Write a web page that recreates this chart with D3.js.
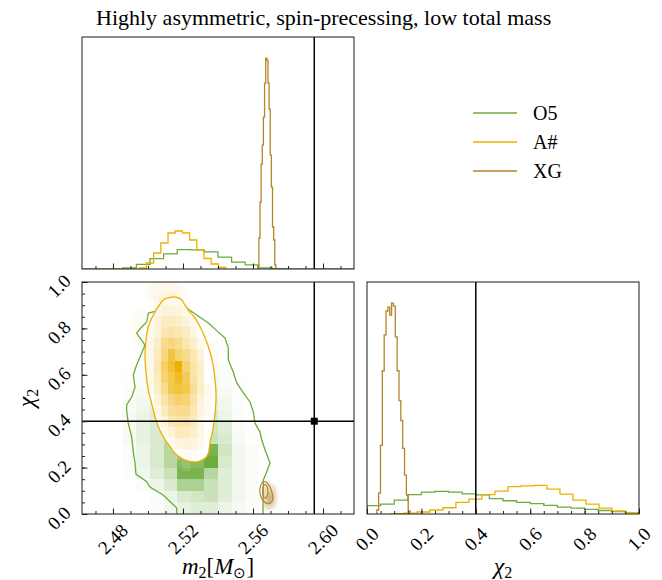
<!DOCTYPE html>
<html>
<head>
<meta charset="utf-8">
<script src="https://cdn.jsdelivr.net/npm/d3@7"></script>
<style>
  body { margin: 0; background: #fff; }
  text { font-family: "Liberation Serif", "Times New Roman", serif; fill: #000; }
</style>
</head>
<body>
<svg id="chart" width="662" height="580"></svg>
<script>
// ---------------- data ----------------
const titleText = "Highly asymmetric, spin-precessing, low total mass";
const seriesNames = ["O5", "A#", "XG"];
const seriesColors = ["#6cac3c", "#eeb000", "#b5842c"];

const m2Range = [2.4623, 2.6177];
const chiRange = [0, 1];
const m2Ticks = [2.48, 2.52, 2.56, 2.60];
const m2TickLabels = ["2.48", "2.52", "2.56", "2.60"];
const chiTicks = [0, 0.2, 0.4, 0.6, 0.8, 1.0];
const chiTickLabels = ["0.0", "0.2", "0.4", "0.6", "0.8", "1.0"];
const truthM2 = 2.595;
const truthChi = 0.4;

// 1D histograms of m2: first bin edge, bin width, heights
const m2BinStart = [2.4623, 2.4950, 2.5627];
const m2BinWidth = [0.00777, 0.00411, 0.00065];
const m2HistO5 = [0, 0, 0, 1, 4.6, 10.3, 15.2, 19.3, 19.2, 17.2, 11.8, 6.8, 4.2, 1.2, 0.4, 0, 0, 0, 0, 0];
const m2HistA = [1, 6, 16, 26, 36, 38, 36, 29, 19, 10.5, 5, 1.5];
const m2HistXG = [3, 31, 67, 105, 124, 152, 186, 211, 209, 186, 160, 114, 82, 42, 29, 4];

// 1D histograms of chi2
const chiBinStart = [0, 0.088, 0.036];
const chiBinWidth = [0.05, 0.0478, 0.0068];
const chiHistO5 = [8.5, 10, 14, 19.5, 22, 22.7, 22, 20.3, 19.3, 15.5, 13.3, 11.7, 10.5, 8.7, 7, 6, 4.7, 3.5, 2.3, 1.3];
const chiHistA = [0.3, 0.8, 2, 4, 6.3, 11.7, 15, 19.5, 23, 27.5, 28.2, 28.7, 25, 20, 14, 10, 6, 3, 1.3];
const chiHistXG = [4, 21, 69, 144, 180, 204, 208, 200, 212, 209, 178, 144, 114, 94, 66, 39, 19, 3];

// 2D normalised densities (rows = chi2 bins from low to high)
const densO5 = [
  [0,0,0,0,0,.15,.3,.4,.45,.45,.35,.25,.15,0,0,0,0,0,0,0],
  [0,0,0,0,0,.2,.35,.5,.55,.6,.45,.3,.15,0,0,0,0,0,0,0],
  [0,0,0,0,.2,.35,.5,.75,.75,.6,.45,.3,.15,0,0,0,0,0,0,0],
  [0,0,0,.15,.3,.45,.6,.95,.95,.7,.45,.3,.15,0,0,0,0,0,0,0],
  [0,0,0,.2,.35,.5,.7,.9,.9,1,.5,.3,.15,0,0,0,0,0,0,0],
  [0,0,0,.2,.35,.5,.7,.8,.85,.95,.55,.3,.15,0,0,0,0,0,0,0],
  [0,0,0,.25,.4,.5,.65,.7,.75,.6,.5,.25,.1,0,0,0,0,0,0,0],
  [0,0,0,.25,.4,.5,.6,.65,.65,.55,.45,.2,.1,0,0,0,0,0,0,0],
  [0,0,0,.25,.35,.45,.55,.6,.55,.5,.35,.15,0,0,0,0,0,0,0,0],
  [0,0,0,.2,.3,.4,.5,.5,.45,.4,.3,.12,0,0,0,0,0,0,0,0],
  [0,0,0,.15,.25,.35,.4,.4,.4,.35,.25,.1,0,0,0,0,0,0,0,0],
  [0,0,0,.1,.2,.3,.35,.35,.35,.3,.2,.08,0,0,0,0,0,0,0,0],
  [0,0,0,.08,.15,.25,.3,.3,.3,.25,.15,0,0,0,0,0,0,0,0,0],
  [0,0,0,0,.12,.2,.25,.25,.25,.2,.1,0,0,0,0,0,0,0,0,0],
  [0,0,0,0,.1,.15,.2,.2,.2,.15,.08,0,0,0,0,0,0,0,0,0],
  [0,0,0,0,.08,.12,.15,.15,.15,.1,0,0,0,0,0,0,0,0,0,0],
  [0,0,0,0,0,.1,.12,.12,.1,.05,0,0,0,0,0,0,0,0,0,0],
  [0,0,0,0,0,.05,.08,.08,.06,0,0,0,0,0,0,0,0,0,0,0],
  [0,0,0,0,0,0,.04,.04,0,0,0,0,0,0,0,0,0,0,0,0],
  [0,0,0,0,0,0,0,0,0,0,0,0,0,0,0,0,0,0,0,0]
];
const densA = [
  [0,0,0,0,0,0,0,0,0,0,0,0],
  [0,0,0,0,0,0,0,0,0,0,0,0],
  [0,0,0,0,0,0,.14,0,0,0,0,0],
  [0,0,0,0,0,.2,.22,.22,0,0,0,0],
  [0,0,0,0,.25,.35,.39,.35,.28,0,0,0],
  [0,0,0,.28,.39,.5,.5,.45,.32,0,0,0],
  [0,0,.25,.39,.55,.59,.59,.5,.32,0,0,0],
  [0,0,.32,.5,.63,.67,.67,.55,.35,.22,0,0],
  [0,0,.39,.59,.71,.77,.74,.59,.39,.25,0,0],
  [0,.28,.45,.67,.84,.87,.84,.63,.45,.28,0,0],
  [0,.32,.5,.74,.84,.92,.81,.59,.45,0,0,0],
  [0,.32,.55,.77,.89,1,.74,.59,.45,0,0,0],
  [0,.32,.5,.71,.87,.74,.67,.55,.39,0,0,0],
  [0,.32,.45,.67,.71,.67,.55,.45,.28,0,0,0],
  [0,.28,.39,.55,.59,.55,.5,.35,0,0,0,0],
  [0,.22,.39,.5,.5,.45,.39,.28,0,0,0,0],
  [0,0,.32,.39,.39,.35,.28,0,0,0,0,0],
  [0,0,.22,.28,.28,.22,0,0,0,0,0,0],
  [0,0,0,.14,.17,0,0,0,0,0,0,0]
];

// credible-region contours, [m2, chi2]
const contourO5 = [[2.5164,0],[2.5164,0.026],[2.5087,0.082],[2.5011,0.116],[2.4993,0.139],[2.4931,0.172],[2.4926,0.220],[2.4916,0.267],[2.4907,0.332],[2.4887,0.392],[2.4878,0.448],[2.4878,0.470],[2.4907,0.504],[2.4926,0.547],[2.4916,0.599],[2.4935,0.642],[2.4964,0.694],[2.4983,0.728],[2.4954,0.759],[2.4935,0.780],[2.4964,0.806],[2.4993,0.828],[2.5002,0.866],[2.5069,0.879],[2.5126,0.892],[2.5193,0.901],[2.5221,0.888],[2.5278,0.858],[2.5345,0.823],[2.5402,0.784],[2.5440,0.759],[2.5459,0.716],[2.5459,0.664],[2.5487,0.612],[2.5507,0.565],[2.5545,0.522],[2.5583,0.483],[2.5602,0.440],[2.5611,0.392],[2.5640,0.353],[2.5650,0.319],[2.5669,0.276],[2.5697,0.220],[2.5678,0.181],[2.5659,0.147],[2.5657,0]];
const contourA = [[2.5126,0.934],[2.5087,0.922],[2.5059,0.894],[2.5030,0.858],[2.5002,0.807],[2.4989,0.750],[2.4983,0.678],[2.4989,0.606],[2.5002,0.534],[2.5021,0.477],[2.5040,0.419],[2.5059,0.376],[2.5087,0.333],[2.5126,0.290],[2.5164,0.254],[2.5221,0.230],[2.5278,0.225],[2.5326,0.240],[2.5345,0.262],[2.5354,0.305],[2.5370,0.362],[2.5383,0.434],[2.5389,0.506],[2.5383,0.578],[2.5370,0.650],[2.5345,0.721],[2.5307,0.793],[2.5269,0.844],[2.5230,0.879],[2.5211,0.901],[2.5193,0.922],[2.5164,0.934]];
const contourXG = [[2.5643,0.121],[2.5657,0.138],[2.5680,0.136],[2.5697,0.116],[2.5709,0.091],[2.5714,0.065],[2.5700,0.047],[2.5674,0.047],[2.5651,0.065],[2.5640,0.091]];
const contourXGInner = [[2.5669,0.128],[2.5681,0.118],[2.5685,0.099],[2.5682,0.079],[2.5670,0.068],[2.5658,0.079],[2.5655,0.099],[2.5658,0.118]];

// clouds of individual samples lying outside the contours: [m2, chi2, m2 radius, chi2 radius, opacity]
const cloudA = [[2.5100, 0.960, 0.0110, 0.050, 0.07], [2.4960, 0.800, 0.0060, 0.080, 0.04]];
const cloudXG = [[2.5692, 0.075, 0.0048, 0.058, 0.28], [2.5696, 0.068, 0.0020, 0.028, 0.45]];

// ---------------- layout ----------------
const svg = d3.select("#chart");
const P = { lx0: 82, lx1: 354, rx0: 367, rx1: 639, ty0: 37, ty1: 269, by0: 282, by1: 514 };

const xM2 = d3.scaleLinear().domain(m2Range).range([P.lx0, P.lx1]);
const xChi = d3.scaleLinear().domain(chiRange).range([P.rx0, P.rx1]);
const yChi = d3.scaleLinear().domain(chiRange).range([P.by1, P.by0]);
const m2Max = d3.max([m2HistO5, m2HistA, m2HistXG].flat());
const chiMax = d3.max([chiHistO5, chiHistA, chiHistXG].flat());
const yHm2 = d3.scaleLinear().domain([0, 1.1 * m2Max]).range([P.ty1, P.ty0]);
const yHchi = d3.scaleLinear().domain([0, 1.1 * chiMax]).range([P.by1, P.by0]);

const defs = svg.append("defs");
function clip(id, x0, y0, x1, y1) {
  defs.append("clipPath").attr("id", id).append("rect")
    .attr("x", x0).attr("y", y0).attr("width", x1 - x0).attr("height", y1 - y0);
  return "url(#" + id + ")";
}
const clipTop = clip("cTop", P.lx0, P.ty0, P.lx1, P.ty1);
const clip2d = clip("c2d", P.lx0, P.by0, P.lx1, P.by1);
const clipRight = clip("cRight", P.rx0, P.by0, P.rx1, P.by1);
defs.append("filter").attr("id", "soft").attr("x", "-50%").attr("y", "-50%").attr("width", "200%").attr("height", "200%")
  .append("feGaussianBlur").attr("stdDeviation", 1.8);

// step outline of a histogram
function stepPoints(start, width, heights) {
  const pts = [[start, 0]];
  heights.forEach((h, i) => {
    pts.push([start + i * width, h]);
    pts.push([start + (i + 1) * width, h]);
  });
  pts.push([start + heights.length * width, 0]);
  return pts;
}
function drawHist(g, xs, ys, start, width, heights, color) {
  const line = d3.line().x(d => xs(d[0])).y(d => ys(d[1]));
  g.append("path").attr("d", line(stepPoints(start, width, heights)))
    .attr("fill", "none").attr("stroke", color).attr("stroke-width", 1.3)
    .attr("stroke-linejoin", "miter");
}

// ---------- top-left: m2 marginal ----------
const gTop = svg.append("g").attr("clip-path", clipTop);
[m2HistO5, m2HistA, m2HistXG].forEach((h, i) =>
  drawHist(gTop, xM2, yHm2, m2BinStart[i], m2BinWidth[i], h, seriesColors[i]));
gTop.append("line").attr("x1", xM2(truthM2)).attr("x2", xM2(truthM2))
  .attr("y1", P.ty0).attr("y2", P.ty1).attr("stroke", "#000").attr("stroke-width", 1.5);

// ---------- bottom-right: chi2 marginal ----------
const gRight = svg.append("g").attr("clip-path", clipRight);
[chiHistO5, chiHistA, chiHistXG].forEach((h, i) =>
  drawHist(gRight, xChi, yHchi, chiBinStart[i], chiBinWidth[i], h, seriesColors[i]));
gRight.append("line").attr("x1", xChi(truthChi)).attr("x2", xChi(truthChi))
  .attr("y1", P.by0).attr("y2", P.by1).attr("stroke", "#000").attr("stroke-width", 1.5);

// ---------- bottom-left: joint m2 / chi2 ----------
const g2 = svg.append("g").attr("clip-path", clip2d);
const ptLine = d3.line().x(d => xM2(d[0])).y(d => yChi(d[1]));
const smoothClosed = d3.line().x(d => xM2(d[0])).y(d => yChi(d[1])).curve(d3.curveCatmullRomClosed.alpha(0.5));

function drawCloud(cloud, color) {
  cloud.forEach(c => {
    const cx = xM2(c[0]), cy = yChi(c[1]);
    g2.append("ellipse").attr("cx", cx).attr("cy", cy)
      .attr("rx", xM2(c[0] + c[2]) - cx).attr("ry", cy - yChi(c[1] + c[3]))
      .attr("fill", color).attr("fill-opacity", c[4]).attr("filter", "url(#soft)");
  });
}
function drawCells(grid, x0, dx, y0, dy, color) {
  const ip = d3.interpolateRgb("#ffffff", color);
  grid.forEach((row, r) => row.forEach((f, c) => {
    if (f <= 0) return;
    const xa = xM2(x0 + c * dx), xb = xM2(x0 + (c + 1) * dx);
    const ya = yChi(y0 + (r + 1) * dy), yb = yChi(y0 + r * dy);
    g2.append("rect").attr("x", xa).attr("y", ya).attr("width", xb - xa).attr("height", yb - ya)
      .attr("fill", ip(f)).attr("fill-opacity", f).attr("shape-rendering", "crispEdges");
  }));
}

// sample clouds sit underneath every fill
drawCloud(cloudA, seriesColors[1]);
drawCloud(cloudXG, seriesColors[2]);

// O5: white base inside its contour, density cells, contour edge
g2.append("path").attr("d", ptLine(contourO5) + "Z").attr("fill", "#fff");
drawCells(densO5, m2Range[0], (m2Range[1] - m2Range[0]) / 20, 0, 0.05, seriesColors[0]);
g2.append("path").attr("d", ptLine(contourO5)).attr("fill", "none")
  .attr("stroke", seriesColors[0]).attr("stroke-width", 1.3);

// A#: same layering on top
g2.append("path").attr("d", smoothClosed(contourA)).attr("fill", "#fff");
drawCells(densA, m2BinStart[1], m2BinWidth[1], chiBinStart[1], chiBinWidth[1], seriesColors[1]);
g2.append("path").attr("d", smoothClosed(contourA)).attr("fill", "none")
  .attr("stroke", seriesColors[1]).attr("stroke-width", 1.3);

// XG contours
[contourXG, contourXGInner].forEach(cn =>
  g2.append("path").attr("d", smoothClosed(cn)).attr("fill", "none")
    .attr("stroke", seriesColors[2]).attr("stroke-width", 1.2));

// injected values
g2.append("line").attr("x1", xM2(truthM2)).attr("x2", xM2(truthM2))
  .attr("y1", P.by0).attr("y2", P.by1).attr("stroke", "#000").attr("stroke-width", 1.5);
g2.append("line").attr("x1", P.lx0).attr("x2", P.lx1)
  .attr("y1", yChi(truthChi)).attr("y2", yChi(truthChi)).attr("stroke", "#000").attr("stroke-width", 1.5);
g2.append("rect").attr("x", xM2(truthM2) - 3.5).attr("y", yChi(truthChi) - 3.5)
  .attr("width", 7).attr("height", 7).attr("fill", "#000");

// ---------- frames and ticks ----------
function frame(x0, y0, x1, y1) {
  svg.append("rect").attr("x", x0).attr("y", y0).attr("width", x1 - x0).attr("height", y1 - y0)
    .attr("fill", "none").attr("stroke", "#1a1a1a").attr("stroke-width", 1);
}
function ticks(axis, translate, major, minor) {
  const g = svg.append("g").attr("transform", translate);
  g.call(axis.tickValues(minor).tickSize(-3).tickFormat(""));
  g.select(".domain").remove();
  const g2b = svg.append("g").attr("transform", translate);
  g2b.call(axis.tickValues(major).tickSize(-5.5).tickFormat(""));
  g2b.select(".domain").remove();
  svg.selectAll(".tick line").attr("stroke", "#222").attr("stroke-width", 1);
}
const m2Minor = xM2.ticks(15);
const chiMinor = yChi.ticks(20);
ticks(d3.axisBottom(xM2), `translate(0,${P.ty1})`, m2Ticks, m2Minor);
ticks(d3.axisBottom(xM2), `translate(0,${P.by1})`, m2Ticks, m2Minor);
ticks(d3.axisLeft(yChi), `translate(${P.lx0},0)`, chiTicks, chiMinor);
ticks(d3.axisBottom(xChi), `translate(0,${P.by1})`, chiTicks, chiMinor);
frame(P.lx0, P.ty0, P.lx1, P.ty1);
frame(P.lx0, P.by0, P.lx1, P.by1);
frame(P.rx0, P.by0, P.rx1, P.by1);

// rotated tick labels
const tickFont = 19;
m2Ticks.forEach((v, i) => {
  svg.append("text").attr("transform", `translate(${xM2(v)},${P.by1 + 25}) rotate(-45)`)
    .attr("text-anchor", "middle").attr("dominant-baseline", "central")
    .attr("font-size", tickFont).text(m2TickLabels[i]);
});
chiTicks.forEach((v, i) => {
  svg.append("text").attr("transform", `translate(${xChi(v)},${P.by1 + 25}) rotate(-45)`)
    .attr("text-anchor", "middle").attr("dominant-baseline", "central")
    .attr("font-size", tickFont).text(chiTickLabels[i]);
  svg.append("text").attr("transform", `translate(${P.lx0 - 23},${yChi(v) + 4}) rotate(-45)`)
    .attr("text-anchor", "middle").attr("dominant-baseline", "central")
    .attr("font-size", tickFont).text(chiTickLabels[i]);
});

// axis labels
const lab1 = svg.append("text").attr("x", (P.lx0 + P.lx1) / 2).attr("y", 574)
  .attr("text-anchor", "middle").attr("font-size", 23);
lab1.append("tspan").attr("font-style", "italic").text("m");
lab1.append("tspan").attr("font-size", 16).attr("dy", 4).text("2");
lab1.append("tspan").attr("dy", -4).text("[");
lab1.append("tspan").attr("font-style", "italic").text("M");
lab1.append("tspan").attr("font-size", 15).attr("dy", 4).text("⊙");
lab1.append("tspan").attr("dy", -4).text("]");

const lab2 = svg.append("text").attr("x", (P.rx0 + P.rx1) / 2).attr("y", 574)
  .attr("text-anchor", "middle").attr("font-size", 24);
lab2.append("tspan").attr("font-style", "italic").text("χ");
lab2.append("tspan").attr("font-size", 16).attr("dy", 4).text("2");

const lab3 = svg.append("text").attr("transform", `translate(34,${(P.by0 + P.by1) / 2}) rotate(-90)`)
  .attr("text-anchor", "middle").attr("font-size", 24);
lab3.append("tspan").attr("font-style", "italic").text("χ");
lab3.append("tspan").attr("font-size", 16).attr("dy", 4).text("2");

// title
svg.append("text").attr("x", 96).attr("y", 25).attr("font-size", 22).text(titleText);

// legend
seriesNames.forEach((name, i) => {
  const y = 113 + i * 29;
  svg.append("line").attr("x1", 473).attr("x2", 517).attr("y1", y).attr("y2", y)
    .attr("stroke", seriesColors[i]).attr("stroke-width", 1.6);
  svg.append("text").attr("x", 533).attr("y", y + 7).attr("font-size", 20).text(name);
});
</script>
</body>
</html>
